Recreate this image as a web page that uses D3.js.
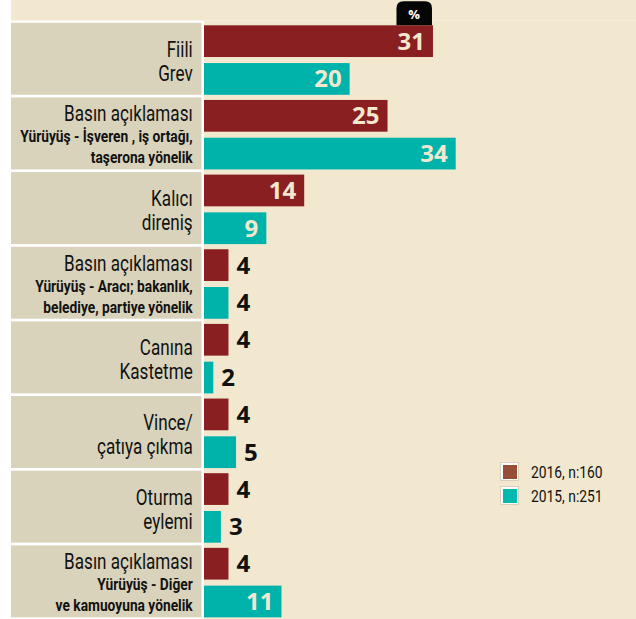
<!DOCTYPE html>
<html>
<head>
<meta charset="utf-8">
<script src="https://cdn.jsdelivr.net/npm/d3@7"></script>
<style>
  html, body { margin: 0; padding: 0; background: #ffffff; }
  svg { display: block; }
  .cat-main { font-family: "Roboto", "Noto Sans", sans-serif; font-size: 22.5px; font-weight: 400; fill: #111; }
  .cat-sub { font-family: "Roboto", "Noto Sans", sans-serif; font-size: 16px; font-weight: 700; fill: #111; }
  .val { font-family: "Open Sans", "DejaVu Sans", sans-serif; font-size: 24px; font-weight: 700; }
  .legend text { font-family: "Roboto", "Noto Sans", sans-serif; font-size: 16.5px; fill: #111; }
</style>
</head>
<body>
<div id="viz"></div>
<script>
// category labels: main lines (large) and sub lines (small bold)
const labelMain = [
  ["Fiili", "Grev"],
  ["Basın açıklaması"],
  ["Kalıcı", "direniş"],
  ["Basın açıklaması"],
  ["Canına", "Kastetme"],
  ["Vince/", "çatıya çıkma"],
  ["Oturma", "eylemi"],
  ["Basın açıklaması"]
];
const labelSub = [
  [],
  ["Yürüyüş - İşveren , iş ortağı,", "taşerona yönelik"],
  [],
  ["Yürüyüş - Aracı; bakanlık,", "belediye, partiye yönelik"],
  [],
  [],
  [],
  ["Yürüyüş - Diğer", "ve kamuoyuna yönelik"]
];
const series = ["2016", "2015"];
const seriesLabels = ["2016, n:160", "2015, n:251"];
const values2016 = [31, 25, 14, 4, 4, 4, 4, 4];
const values2015 = [20, 34, 9, 4, 2, 5, 3, 11];
const unitLabel = "%";

const width = 636, height = 619;
const colors = { "2016": "#8a1f22", "2015": "#00b3aa" };
const legendColors = { "2016": "#964f37", "2015": "#00b8ad" };

// condensed look: squeeze the text horizontally
const mainSqueeze = 0.76, subSqueeze = 0.86, legendSqueeze = 0.84;

let svg = d3.select("#viz")
  .append("svg")
    .attr("width", width)
    .attr("height", height);

// white page with cream chart area
svg.append("rect").attr("x", 11).attr("y", 0).attr("width", width - 11).attr("height", 20.5).attr("fill", "#f2e8cf");
svg.append("rect").attr("x", 204).attr("y", 20.5).attr("width", width - 204).attr("height", height).attr("fill", "#f2e8cf");

let rows = d3.range(labelMain.length);
let data = rows.map(i => ({ i: i, main: labelMain[i], sub: labelSub[i], "2016": values2016[i], "2015": values2015[i] }));

// scales
let yScale = d3.scaleBand()
  .domain(rows)
  .range([22.8, 22.8 + 74.65 * rows.length])
  .padding(0);
let ySub = d3.scaleBand()
  .domain(series)
  .range([2.5, 72])
  .paddingInner(0.16);
let xScale = d3.scaleLinear()
  .domain([0.77, 34])
  .range([204, 455.7]);

let groups = svg.selectAll("g.row")
  .data(data)
  .enter()
  .append("g")
    .attr("class", "row")
    .attr("transform", d => "translate(0," + yScale(d.i) + ")");

// label boxes
groups.append("rect")
  .attr("x", 11)
  .attr("y", 0)
  .attr("width", 190.5)
  .attr("height", yScale.step() - 2.7)
  .attr("fill", "#d9d3bb");

// label text
const labelRight = 192.7;
function addLine(g, cls, y, t, sx) {
  g.append("text").attr("class", cls)
    .attr("text-anchor", "end")
    .attr("transform", "translate(" + labelRight + "," + y + ") scale(" + sx + ",1)")
    .text(t);
}
groups.each(function(d) {
  let g = d3.select(this);
  if (d.sub.length === 0) {
    d.main.forEach((t, k) => addLine(g, "cat-main", 34 + k * 24, t, mainSqueeze));
  } else {
    addLine(g, "cat-main", 24, d.main[0], mainSqueeze);
    d.sub.forEach((t, k) => addLine(g, "cat-sub", 45 + k * 21, t, subSqueeze));
  }
});

// bars
series.forEach(s => {
  groups.append("rect")
    .attr("x", xScale.range()[0])
    .attr("y", ySub(s))
    .attr("width", d => xScale(d[s]) - xScale.range()[0])
    .attr("height", ySub.bandwidth())
    .attr("fill", colors[s]);

  groups.append("text")
    .attr("class", "val")
    .attr("y", ySub(s) + ySub.bandwidth() / 2 + 8.5)
    .attr("x", d => d[s] >= 9 ? xScale(d[s]) - 8 : xScale(d[s]) + 8)
    .attr("text-anchor", d => d[s] >= 9 ? "end" : "start")
    .attr("fill", d => d[s] >= 9 ? "#f2e8cf" : "#111")
    .text(d => d[s]);
});

// % badge above the first bar
let badgeRight = xScale(values2016[0]) - 1;
let badgeTop = 1.3, badgeW = 35.5, badgeH = yScale(0) + ySub("2016") - badgeTop, r = 7;
svg.append("path")
  .attr("d", "M" + (badgeRight - badgeW) + "," + (badgeTop + badgeH) +
             " V" + (badgeTop + r) +
             " Q" + (badgeRight - badgeW) + "," + badgeTop + " " + (badgeRight - badgeW + r) + "," + badgeTop +
             " H" + (badgeRight - r) +
             " Q" + badgeRight + "," + badgeTop + " " + badgeRight + "," + (badgeTop + r) +
             " V" + (badgeTop + badgeH) + " Z")
  .attr("fill", "#050505");
svg.append("text")
  .attr("x", badgeRight - badgeW / 2)
  .attr("y", 19)
  .attr("text-anchor", "middle")
  .attr("fill", "#fff")
  .style("font-family", "'Open Sans', sans-serif")
  .style("font-size", "13px")
  .style("font-weight", "700")
  .text(unitLabel);

// legend
let legend = svg.append("g").attr("class", "legend")
  .attr("transform", "translate(500,462)");
series.forEach((s, k) => {
  let lg = legend.append("g").attr("transform", "translate(0," + (k * 24) + ")");
  lg.append("rect")
    .attr("x", 0.5).attr("y", 0.5)
    .attr("width", 18).attr("height", 18)
    .attr("fill", "#fff")
    .attr("stroke", "#d8d0bb").attr("stroke-width", 1);
  lg.append("rect")
    .attr("x", 3).attr("y", 3)
    .attr("width", 14).attr("height", 14)
    .attr("fill", legendColors[s]);
  lg.append("text")
    .attr("transform", "translate(31,16) scale(" + legendSqueeze + ",1)")
    .text(seriesLabels[k]);
});
</script>
</body>
</html>
